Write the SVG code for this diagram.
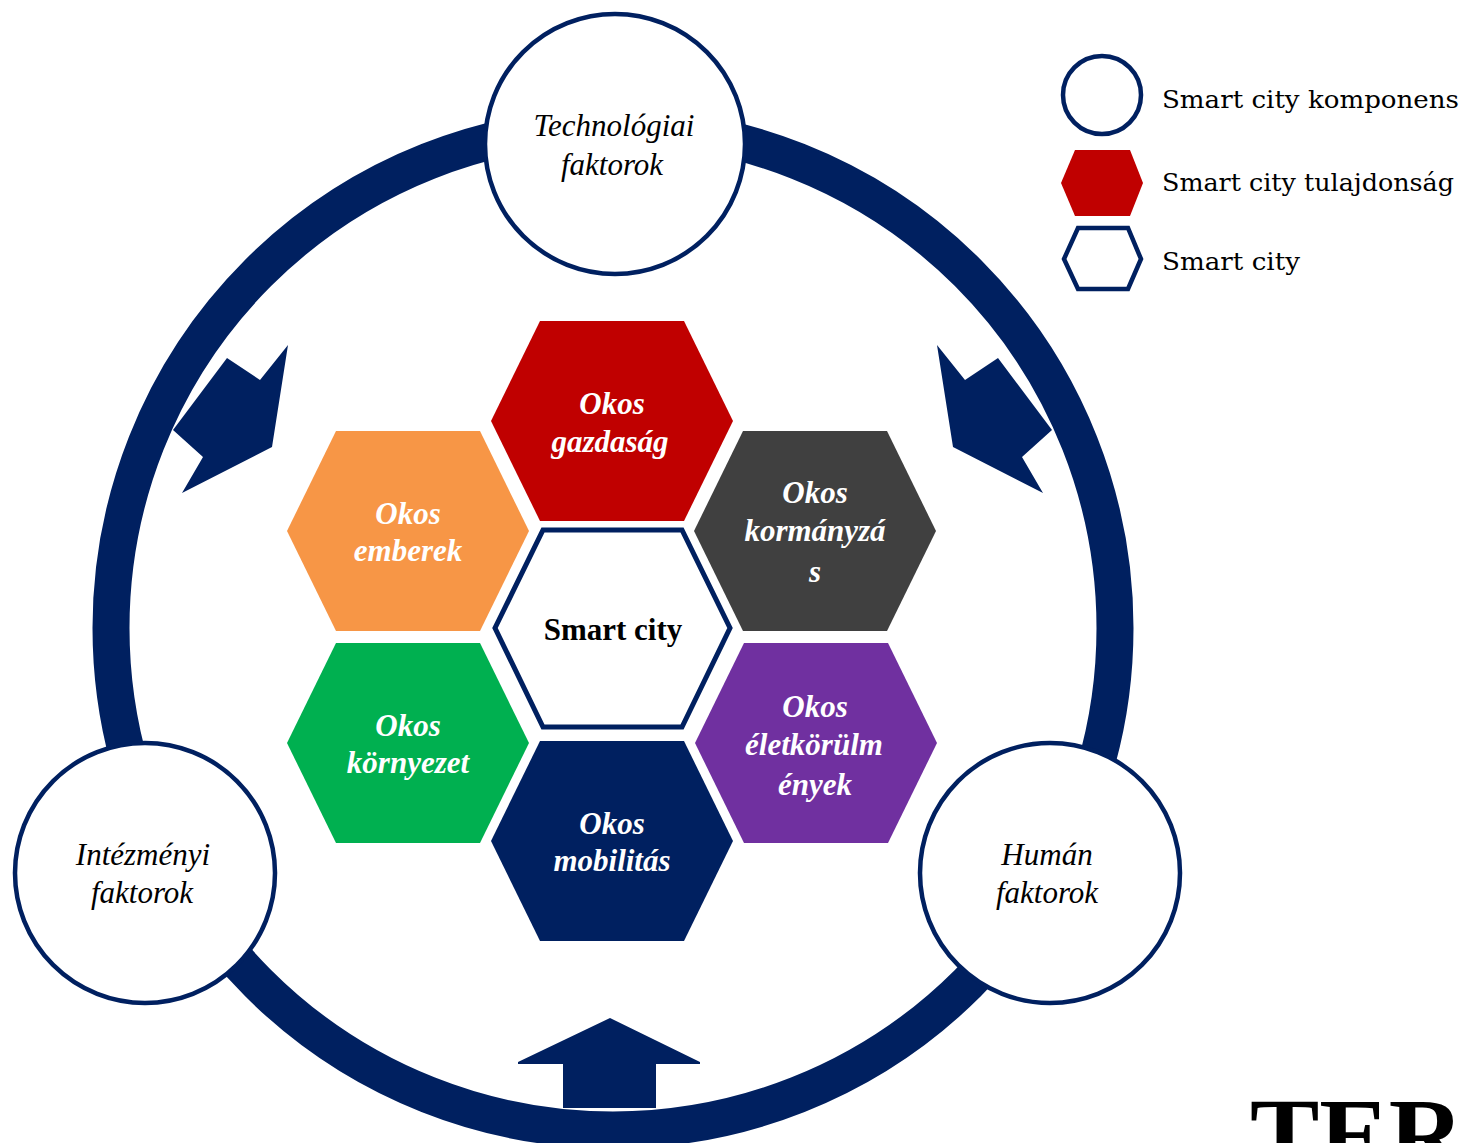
<svg xmlns="http://www.w3.org/2000/svg" width="1464" height="1143" viewBox="0 0 1464 1143">
<defs>
<style>
.navy{fill:#002060;}
.comp{fill:#ffffff;stroke:#002060;stroke-width:4.5;}
.ctext{font-family:"Liberation Serif","DejaVu Serif",serif;font-style:italic;font-size:31px;fill:#000;text-anchor:middle;}
.htext{font-family:"Liberation Serif","DejaVu Serif",serif;font-style:italic;font-weight:bold;font-size:31px;fill:#fff;text-anchor:middle;}
.stext{font-family:"Liberation Serif","DejaVu Serif",serif;font-weight:bold;font-size:31px;fill:#000;text-anchor:middle;}
.ltext{font-family:"DejaVu Serif","Liberation Serif",serif;font-size:24px;fill:#000;}
</style>
<path id="hex" d="M-72,-100 L72,-100 L121,0 L72,100 L-72,100 L-121,0 Z"/>
</defs>
<rect width="1464" height="1143" fill="#ffffff"/>
<g id="connectors">
<circle cx="613" cy="628" r="502" fill="none" stroke="#002060" stroke-width="37"/>
<polygon class="navy" points="288,345 272,447 182,493 203,457 173,430 227,358 260,380"/>
<polygon class="navy" points="937,345 965,380 998,358 1052,430 1022,457 1043,493 953,447"/>
<polygon class="navy" points="610,1018 700,1062 700,1064 656,1064 656,1108 563,1108 563,1064 518,1064 518,1062"/>
</g>
<g id="node-tech">
<circle class="comp" cx="615" cy="144" r="130"/>
<text class="ctext" x="614" y="136">Technológiai</text>
<text class="ctext" x="612" y="175">faktorok</text>
</g>
<g id="node-intezmenyi">
<circle class="comp" cx="145" cy="873" r="130"/>
<text class="ctext" x="143" y="865">Intézményi</text>
<text class="ctext" x="142" y="903">faktorok</text>
</g>
<g id="node-human">
<circle class="comp" cx="1050" cy="873" r="130"/>
<text class="ctext" x="1047" y="865">Humán</text>
<text class="ctext" x="1047" y="903">faktorok</text>
</g>
<g id="node-gazdasag">
<use href="#hex" x="612" y="421" fill="#C00000"/>
<text class="htext" x="612" y="414">Okos</text>
<text class="htext" x="610" y="452">gazdaság</text>
</g>
<g id="node-emberek">
<use href="#hex" x="408" y="531" fill="#F79646"/>
<text class="htext" x="408" y="524">Okos</text>
<text class="htext" x="408" y="561">emberek</text>
</g>
<g id="node-kormanyzas">
<use href="#hex" x="815" y="531" fill="#404040"/>
<text class="htext" x="815" y="503">Okos</text>
<text class="htext" x="815" y="541">kormányzá</text>
<text class="htext" x="815" y="582">s</text>
</g>
<g id="node-smartcity">
<path d="M543,530 L682,530 L730,628 L682,727 L543,727 L495,628 Z" fill="#ffffff" stroke="#002060" stroke-width="5"/>
<text class="stext" x="613" y="640">Smart city</text>
</g>
<g id="node-kornyezet">
<use href="#hex" x="408" y="743" fill="#00B050"/>
<text class="htext" x="408" y="736">Okos</text>
<text class="htext" x="408" y="773">környezet</text>
</g>
<g id="node-eletkorulmenyek">
<use href="#hex" x="816" y="743" fill="#7030A0"/>
<text class="htext" x="815" y="717">Okos</text>
<text class="htext" x="814" y="755">életkörülm</text>
<text class="htext" x="815" y="795">ények</text>
</g>
<g id="node-mobilitas">
<use href="#hex" x="612" y="841" fill="#002060"/>
<text class="htext" x="612" y="834">Okos</text>
<text class="htext" x="612" y="871">mobilitás</text>
</g>
<g id="legend">
<circle cx="1102" cy="95" r="39" fill="#fff" stroke="#002060" stroke-width="4.5"/>
<path d="M1075,150 L1130,150 L1143,183 L1130,216 L1075,216 L1061,183 Z" fill="#C00000"/>
<path d="M1078,228 L1128,228 L1141,259 L1128,289 L1078,289 L1064,259 Z" fill="#fff" stroke="#002060" stroke-width="4.5"/>
<text class="ltext" x="1162" y="108" textLength="297" lengthAdjust="spacingAndGlyphs">Smart city komponens</text>
<text class="ltext" x="1162" y="191" textLength="292" lengthAdjust="spacingAndGlyphs">Smart city tulajdonság</text>
<text class="ltext" x="1162" y="270" textLength="138" lengthAdjust="spacingAndGlyphs">Smart city</text>
</g>
<text x="1250" y="1170" font-family="Liberation Serif,serif" font-weight="bold" font-size="104" fill="#000">TER</text>
</svg>
